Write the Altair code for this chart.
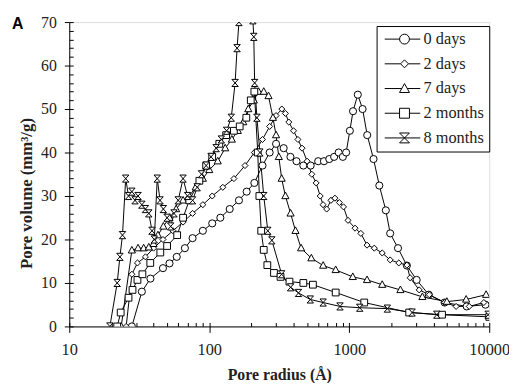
import altair as alt
import pandas as pd

series_names = ["0 days", "2 days", "7 days", "2 months", "8 months"]

r_0d = [28, 33, 38, 46.7, 52, 58.6, 67, 76, 90, 105, 120, 140, 163, 185, 210, 240, 270, 300, 340, 380,
        420, 470, 530, 600, 660, 720, 780, 840, 900, 950, 1010, 1064, 1151, 1245, 1344, 1491, 1640, 1825,
        1960, 2230, 2580, 3030, 3700, 4800, 6900, 9400]
v_0d = [0, 8, 11, 13.4, 14.5, 16, 18, 20.3, 22, 23.7, 25, 27, 29, 31, 33, 37, 40, 42, 41, 39,
        38, 37, 37, 38, 38, 38.5, 39, 40, 39, 40, 45, 49.5, 53.3, 50, 44, 38.5, 32.4, 26.7,
        21.4, 18, 14, 10.7, 7.3, 5.5, 4.6, 5]

r_2d = [25.5, 28, 30.7, 35, 40, 46.7, 55, 65, 76, 90, 105, 125, 150, 180, 210, 240, 270, 300, 330, 350,
        370, 400, 430, 460, 500, 540, 580, 620, 650, 690, 740, 790, 850, 910, 980, 1100, 1210, 1340, 1510,
        1720, 1960, 2260, 2580, 2720, 3160, 3730, 4800, 5800, 7200, 9150]
v_2d = [0, 12, 14.6, 16, 18, 20, 22, 24, 26, 28, 30, 32, 34, 37, 40, 43, 46, 48.5, 50, 49,
        47, 45, 43, 41, 38, 35, 33, 30, 28, 27, 29, 29.5, 28.5, 27.5, 24.4, 22.6, 21.4, 18.7, 18,
        16.9, 15.3, 14.6, 14.1, 11.2, 8.4, 7.3, 5.5, 4.6, 4.6, 5.5]

r_7d = [23.5, 28, 31, 34, 37, 40, 43, 47, 52, 58, 65, 72, 80, 90, 100, 115, 130, 145, 160, 175,
        190, 208, 225, 245, 265, 285, 300, 314, 329, 350, 381, 413, 453, 536, 651, 800, 1060, 1340,
        1720, 2320, 3330, 4980, 6840, 9500]
v_7d = [0, 17.5, 18, 18, 18.2, 19, 21, 23, 25, 27, 29, 30, 32, 34, 36, 38, 41, 43, 45, 47,
        50, 52, 54, 54, 53, 48, 44, 39, 34, 30, 26, 22, 18, 15.7, 14, 13, 11.4, 10.7,
        9.6, 8.4, 6.8, 5.7, 6.2, 7.3]

r_2m = [22, 23.3, 26.5, 28.3, 30.7, 33.3, 37.9, 44.7, 50, 59, 65, 72, 85, 95, 105, 118, 132, 150, 165, 184,
        198, 210, 222, 228, 235, 245, 260, 290, 323, 374, 470, 550, 800, 1280, 2680, 4600, 10000]
v_2m = [0, 3.2, 6.6, 8.4, 10.7, 12, 14.6, 17, 18.5, 21, 25, 29, 33.5, 37, 39, 42, 44, 45, 46, 48,
        52, 54, 40, 30, 22, 17.6, 14.1, 12.3, 11.4, 10.3, 10, 9.6, 7.8, 5.5, 3.2, 2.7, 2.2]

r_8m = [19.5, 22, 23, 24, 25.3, 26.5, 28, 29.5, 31, 33, 35, 37, 39, 40.5, 42.5, 44.5, 47, 50, 53, 56,
        60, 65, 70, 76, 82, 88, 95, 103, 112, 122, 133, 143.6, 153, 158, 163, 185, 205, 208, 211, 219,
        230, 245, 262, 280, 329, 381, 434, 527, 651, 859, 1188, 1872, 2812, 4220, 9820]
v_8m = [0, 10, 16, 21, 34, 30, 31, 29, 30, 28, 27, 26, 22, 20, 34, 29, 27, 25, 23, 26,
        29, 34, 30, 29, 32, 35, 37, 39, 41, 43, 45, 48, 56, 64, 70, 95, 70.4, 66.6, 56, 48,
        40, 30, 22, 19.8, 12, 9, 7.7, 6.2, 5.5, 4.6, 4.3, 4.1, 3.2, 2.7, 2.7]

x_major = [10, 100, 1000, 10000]
x_minor = [m * d for d in (10, 100, 1000) for m in range(1, 11)]
y_major = list(range(0, 71, 10))
y_minor = list(range(0, 71, 2))

rows = []
for name, rs, vs in zip(series_names, [r_0d, r_2d, r_7d, r_2m, r_8m], [v_0d, v_2d, v_7d, v_2m, v_8m]):
    for r, v in zip(rs, vs):
        rows.append({"s": name, "r": r, "v": v})
df = pd.DataFrame(rows)

plot_shapes = [
    "circle",
    "M0,-0.85L0.85,0L0,0.85L-0.85,0Z",
    "M0,-1.1L1,0.75L-1,0.75Z",
    "M-0.95,-0.95H0.95V0.95H-0.95Z",
    "M-0.9,-1H0.9L-0.9,1H0.9Z",
]
legend_shapes = [
    "M-1,0H2M4,0H6.2M2,0A1,1 0 1,0 4,0A1,1 0 1,0 2,0",
    "M-1,0H2.2M3.8,0H6.2M3,-0.8L3.8,0L3,0.8L2.2,0Z",
    "M-1,0H2.44M3.56,0H6.2M2,0.8L4,0.8L3,-1Z",
    "M-1,0H2M4,0H6.2M2,-1H4V1H2Z",
    "M-1,0H6.2M2,-1H4L2,1H4Z",
]

TXT = "#222222"
SERIF = "Liberation Serif"

x_scale = alt.Scale(type="log", domain=[10, 10000], nice=False)
y_scale = alt.Scale(domain=[0, 70], nice=False, zero=False)

base = alt.Chart(df)

lines = base.mark_line(color="black", strokeWidth=1, clip=True).encode(
    x=alt.X("r:Q", scale=x_scale,
            axis=alt.Axis(orient="bottom", values=x_major, format="d", tickSize=6, labelPadding=9,
                          title="Pore radius (Å)", titleFont=SERIF, titleFontSize=16, titleFontWeight="bold",
                          titleColor=TXT, titlePadding=9, labelFont=SERIF, labelFontSize=16.5, labelColor=TXT,
                          grid=False, domainColor="black", tickColor="black", labelFlush=False)),
    y=alt.Y("v:Q", scale=y_scale,
            axis=alt.Axis(orient="left", values=y_major, tickSize=5, labelPadding=8,
                          title="Pore volume (mm³/g)", titleFont=SERIF, titleFontSize=17, titleFontWeight="bold",
                          titleColor=TXT, titleX=-34, titleY=173, labelFont=SERIF, labelFontSize=16,
                          labelColor=TXT, grid=False, domainColor="black", tickColor="black")),
    detail="s:N",
)

points = base.mark_point(filled=True, fill="white", stroke="black", strokeWidth=1, opacity=1,
                         size=52, clip=True).encode(
    x=alt.X("r:Q", scale=x_scale,
            axis=alt.Axis(orient="bottom", values=x_minor, labels=False, tickSize=4, offset=-4,
                          domain=False, title=None, grid=False, tickColor="black")),
    y=alt.Y("v:Q", scale=y_scale,
            axis=alt.Axis(orient="left", values=y_minor, labels=False, tickSize=4, offset=-4,
                          domain=False, title=None, grid=False, tickColor="black")),
    shape=alt.Shape("s:N", scale=alt.Scale(domain=series_names, range=plot_shapes), legend=None),
)

legend_layer = base.transform_filter("false").mark_point(
    filled=False, color="black", strokeWidth=1, opacity=1, size=49).encode(
    x=alt.X("r:Q", scale=x_scale, axis=None),
    y=alt.Y("v:Q", scale=y_scale, axis=None),
    shape=alt.Shape("s:N", scale=alt.Scale(domain=series_names, range=legend_shapes),
                    legend=alt.Legend(title=None, orient="none", legendX=311, legendY=4,
                                      strokeColor="black", fillColor="white", padding=5,
                                      labelFont=SERIF, labelFontSize=16.5, labelColor=TXT,
                                      labelOffset=26, rowPadding=8, symbolStrokeColor="black",
                                      symbolStrokeWidth=1)),
)

chart = alt.layer(lines, points, legend_layer).resolve_scale(
    shape="independent"
).resolve_axis(
    x="independent", y="independent"
).properties(
    width=425, height=308,
    autosize=alt.AutoSizeParams(type="none"),
    padding={"left": 62, "top": 12, "right": 20, "bottom": 55},
    title=alt.TitleParams("A", anchor="start", frame="group", font="Liberation Sans", fontSize=16,
                          fontWeight="bold", color="black", dx=-58, dy=31, offset=0, baseline="alphabetic"),
).configure_view(stroke="black", strokeWidth=1).configure(background="white")

chart.save("out.html", embed_options={"renderer": "svg", "actions": False})
